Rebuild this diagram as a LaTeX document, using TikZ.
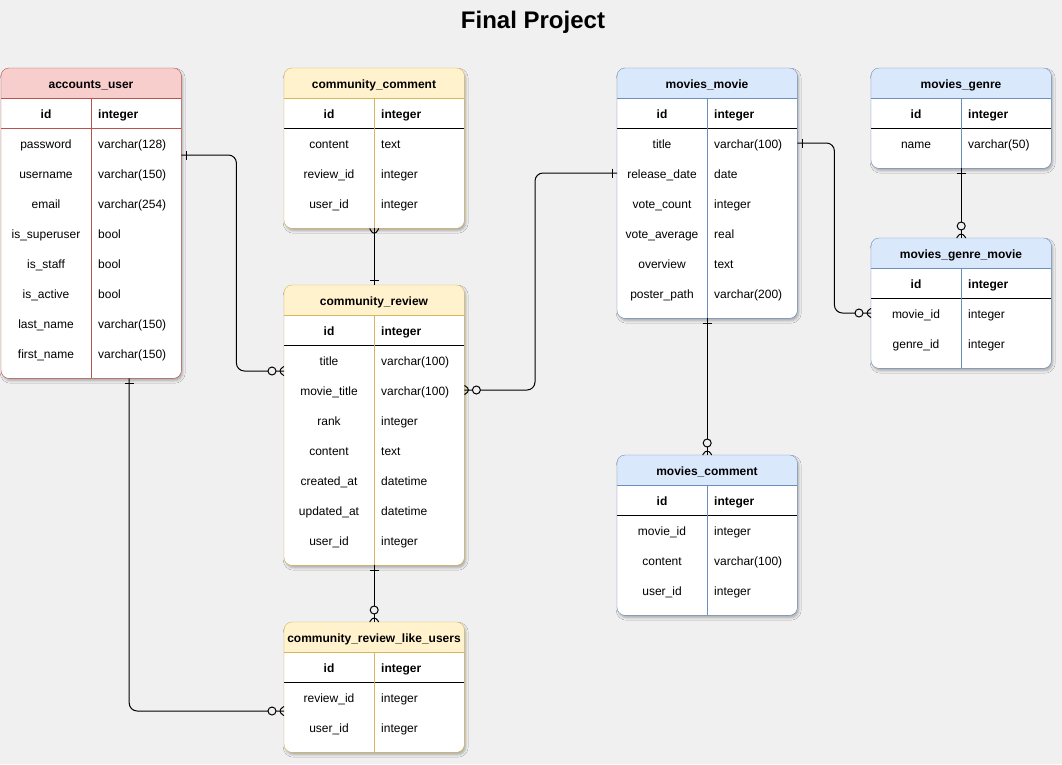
\documentclass[tikz,border=0pt]{standalone}
\usepackage{fontspec}
\setmainfont{Liberation Sans}
\usetikzlibrary{positioning}
\usetikzlibrary{decorations.markings, shadows.blur}

\definecolor{bgc}{RGB}{240,240,240}
\definecolor{redfill}{HTML}{F8CECC}
\definecolor{redline}{HTML}{B85450}
\definecolor{yelfill}{HTML}{FFF2CC}
\definecolor{yelline}{HTML}{D6B656}
\definecolor{bluefill}{HTML}{DAE8FC}
\definecolor{blueline}{HTML}{6C8EBF}

\tikzset{
  tbl/.style={rectangle, fill=white, rounded corners=8pt, anchor=north west, inner sep=0pt, minimum width=180pt,
    blur shadow={shadow xshift=1.5pt, shadow yshift=-2.5pt, shadow blur radius=2.5pt, shadow opacity=30}},
  ttl/.style={font=\fontsize{12}{14}\selectfont\bfseries, text height=11pt, text depth=1pt, inner sep=0pt},
  fld/.style={font=\fontsize{12}{14}\selectfont, text height=11pt, text depth=1pt, inner sep=0pt},
  typ/.style={fld, anchor=west},
  rel/.style={draw=black, line width=1pt, rounded corners=8pt, postaction={decorate}},
  onezmany/.style={rel, decoration={markings,
    mark=at position 5pt with {\draw[line width=1pt] (0pt,-4.5pt) -- (0pt,4.5pt);},
    mark=at position -8pt with {\draw[line width=1pt] (8pt,4.5pt) -- (0pt,0pt) -- (8pt,-4.5pt);},
    mark=at position -12pt with {\draw[line width=1pt, fill=bgc] (0pt,0pt) circle (4pt);}}},
  onemany/.style={rel, decoration={markings,
    mark=at position 5pt with {\draw[line width=1pt] (0pt,-4.5pt) -- (0pt,4.5pt);},
    mark=at position -9pt with {\draw[line width=1pt] (9pt,4.5pt) -- (0pt,0pt) -- (9pt,-4.5pt);}}}
}

\begin{document}
\begin{tikzpicture}[x=1pt,y=-1pt]
\fill[bgc] (0,0) rectangle (1062,764);
\useasboundingbox (0,0) rectangle (1062,764);

\node[font=\fontsize{24}{28}\selectfont\bfseries, text height=20pt, text depth=4pt, inner sep=0pt] (title) at (533,20) {Final Project};

% accounts_user
\node[tbl, minimum height=310pt] (au) at (1,68) {};
\fill[redfill] ([yshift=-30pt]au.north west) [rounded corners=8pt] -- (au.north west) -- (au.north east) [sharp corners] -- ([yshift=-30pt]au.north east) -- cycle;
\draw[redline] ([yshift=-30pt]au.north west) -- ([yshift=-30pt]au.north east);
\draw[redline] ([yshift=-60pt]au.north west) -- ([yshift=-60pt]au.north east);
\draw[redline] ([xshift=90pt,yshift=-30pt]au.north west) -- ([xshift=90pt]au.south west);
\draw[redline, rounded corners=8pt] (au.north west) rectangle (au.south east);
\node[ttl] (au0) at (91,83) {accounts\_user};
\node[ttl] (au1a) at (46,113) {id}; \node[ttl, anchor=west] (au1b) at (98,113) {integer};
\node[fld] (au2a) at (46,143) {password}; \node[typ] (au2b) at (98,143) {varchar(128)};
\node[fld] (au3a) at (46,173) {username}; \node[typ] (au3b) at (98,173) {varchar(150)};
\node[fld] (au4a) at (46,203) {email}; \node[typ] (au4b) at (98,203) {varchar(254)};
\node[fld] (au5a) at (46,233) {is\_superuser}; \node[typ] (au5b) at (98,233) {bool};
\node[fld] (au6a) at (46,263) {is\_staff}; \node[typ] (au6b) at (98,263) {bool};
\node[fld] (au7a) at (46,293) {is\_active}; \node[typ] (au7b) at (98,293) {bool};
\node[fld] (au8a) at (46,323) {last\_name}; \node[typ] (au8b) at (98,323) {varchar(150)};
\node[fld] (au9a) at (46,353) {first\_name}; \node[typ] (au9b) at (98,353) {varchar(150)};

% community_comment
\node[tbl, minimum height=160pt] (cc) at (284,68) {};
\fill[yelfill] ([yshift=-30pt]cc.north west) [rounded corners=8pt] -- (cc.north west) -- (cc.north east) [sharp corners] -- ([yshift=-30pt]cc.north east) -- cycle;
\draw[yelline] ([yshift=-30pt]cc.north west) -- ([yshift=-30pt]cc.north east);
\draw[black] ([yshift=-60pt]cc.north west) -- ([yshift=-60pt]cc.north east);
\draw[yelline] ([xshift=90pt,yshift=-30pt]cc.north west) -- ([xshift=90pt]cc.south west);
\draw[yelline, rounded corners=8pt] (cc.north west) rectangle (cc.south east);
\node[ttl] (cc0) at (374,83) {community\_comment};
\node[ttl] (cc1a) at (329,113) {id}; \node[ttl, anchor=west] (cc1b) at (381,113) {integer};
\node[fld] (cc2a) at (329,143) {content}; \node[typ] (cc2b) at (381,143) {text};
\node[fld] (cc3a) at (329,173) {review\_id}; \node[typ] (cc3b) at (381,173) {integer};
\node[fld] (cc4a) at (329,203) {user\_id}; \node[typ] (cc4b) at (381,203) {integer};

% community_review
\node[tbl, minimum height=280pt] (cr) at (284,285) {};
\fill[yelfill] ([yshift=-30pt]cr.north west) [rounded corners=8pt] -- (cr.north west) -- (cr.north east) [sharp corners] -- ([yshift=-30pt]cr.north east) -- cycle;
\draw[yelline] ([yshift=-30pt]cr.north west) -- ([yshift=-30pt]cr.north east);
\draw[black] ([yshift=-60pt]cr.north west) -- ([yshift=-60pt]cr.north east);
\draw[yelline] ([xshift=90pt,yshift=-30pt]cr.north west) -- ([xshift=90pt]cr.south west);
\draw[yelline, rounded corners=8pt] (cr.north west) rectangle (cr.south east);
\node[ttl] (cr0) at (374,300) {community\_review};
\node[ttl] (cr1a) at (329,330) {id}; \node[ttl, anchor=west] (cr1b) at (381,330) {integer};
\node[fld] (cr2a) at (329,360) {title}; \node[typ] (cr2b) at (381,360) {varchar(100)};
\node[fld] (cr3a) at (329,390) {movie\_title}; \node[typ] (cr3b) at (381,390) {varchar(100)};
\node[fld] (cr4a) at (329,420) {rank}; \node[typ] (cr4b) at (381,420) {integer};
\node[fld] (cr5a) at (329,450) {content}; \node[typ] (cr5b) at (381,450) {text};
\node[fld] (cr6a) at (329,480) {created\_at}; \node[typ] (cr6b) at (381,480) {datetime};
\node[fld] (cr7a) at (329,510) {updated\_at}; \node[typ] (cr7b) at (381,510) {datetime};
\node[fld] (cr8a) at (329,540) {user\_id}; \node[typ] (cr8b) at (381,540) {integer};

% community_review_like_users
\node[tbl, minimum height=130pt] (crl) at (284,622) {};
\fill[yelfill] ([yshift=-30pt]crl.north west) [rounded corners=8pt] -- (crl.north west) -- (crl.north east) [sharp corners] -- ([yshift=-30pt]crl.north east) -- cycle;
\draw[yelline] ([yshift=-30pt]crl.north west) -- ([yshift=-30pt]crl.north east);
\draw[black] ([yshift=-60pt]crl.north west) -- ([yshift=-60pt]crl.north east);
\draw[yelline] ([xshift=90pt,yshift=-30pt]crl.north west) -- ([xshift=90pt]crl.south west);
\draw[yelline, rounded corners=8pt] (crl.north west) rectangle (crl.south east);
\node[ttl] (crl0) at (374,637) {community\_review\_like\_users};
\node[ttl] (crl1a) at (329,667) {id}; \node[ttl, anchor=west] (crl1b) at (381,667) {integer};
\node[fld] (crl2a) at (329,697) {review\_id}; \node[typ] (crl2b) at (381,697) {integer};
\node[fld] (crl3a) at (329,727) {user\_id}; \node[typ] (crl3b) at (381,727) {integer};

% movies_movie
\node[tbl, minimum height=250pt] (mm) at (617,68) {};
\fill[bluefill] ([yshift=-30pt]mm.north west) [rounded corners=8pt] -- (mm.north west) -- (mm.north east) [sharp corners] -- ([yshift=-30pt]mm.north east) -- cycle;
\draw[blueline] ([yshift=-30pt]mm.north west) -- ([yshift=-30pt]mm.north east);
\draw[black] ([yshift=-60pt]mm.north west) -- ([yshift=-60pt]mm.north east);
\draw[blueline] ([xshift=90pt,yshift=-30pt]mm.north west) -- ([xshift=90pt]mm.south west);
\draw[blueline, rounded corners=8pt] (mm.north west) rectangle (mm.south east);
\node[ttl] (mm0) at (707,83) {movies\_movie};
\node[ttl] (mm1a) at (662,113) {id}; \node[ttl, anchor=west] (mm1b) at (714,113) {integer};
\node[fld] (mm2a) at (662,143) {title}; \node[typ] (mm2b) at (714,143) {varchar(100)};
\node[fld] (mm3a) at (662,173) {release\_date}; \node[typ] (mm3b) at (714,173) {date};
\node[fld] (mm4a) at (662,203) {vote\_count}; \node[typ] (mm4b) at (714,203) {integer};
\node[fld] (mm5a) at (662,233) {vote\_average}; \node[typ] (mm5b) at (714,233) {real};
\node[fld] (mm6a) at (662,263) {overview}; \node[typ] (mm6b) at (714,263) {text};
\node[fld] (mm7a) at (662,293) {poster\_path}; \node[typ] (mm7b) at (714,293) {varchar(200)};

% movies_genre
\node[tbl, minimum height=100pt] (mg) at (871,68) {};
\fill[bluefill] ([yshift=-30pt]mg.north west) [rounded corners=8pt] -- (mg.north west) -- (mg.north east) [sharp corners] -- ([yshift=-30pt]mg.north east) -- cycle;
\draw[blueline] ([yshift=-30pt]mg.north west) -- ([yshift=-30pt]mg.north east);
\draw[black] ([yshift=-60pt]mg.north west) -- ([yshift=-60pt]mg.north east);
\draw[blueline] ([xshift=90pt,yshift=-30pt]mg.north west) -- ([xshift=90pt]mg.south west);
\draw[blueline, rounded corners=8pt] (mg.north west) rectangle (mg.south east);
\node[ttl] (mg0) at (961,83) {movies\_genre};
\node[ttl] (mg1a) at (916,113) {id}; \node[ttl, anchor=west] (mg1b) at (968,113) {integer};
\node[fld] (mg2a) at (916,143) {name}; \node[typ] (mg2b) at (968,143) {varchar(50)};

% movies_genre_movie
\node[tbl, minimum height=130pt] (mgm) at (871,238) {};
\fill[bluefill] ([yshift=-30pt]mgm.north west) [rounded corners=8pt] -- (mgm.north west) -- (mgm.north east) [sharp corners] -- ([yshift=-30pt]mgm.north east) -- cycle;
\draw[blueline] ([yshift=-30pt]mgm.north west) -- ([yshift=-30pt]mgm.north east);
\draw[black] ([yshift=-60pt]mgm.north west) -- ([yshift=-60pt]mgm.north east);
\draw[blueline] ([xshift=90pt,yshift=-30pt]mgm.north west) -- ([xshift=90pt]mgm.south west);
\draw[blueline, rounded corners=8pt] (mgm.north west) rectangle (mgm.south east);
\node[ttl] (mgm0) at (961,253) {movies\_genre\_movie};
\node[ttl] (mgm1a) at (916,283) {id}; \node[ttl, anchor=west] (mgm1b) at (968,283) {integer};
\node[fld] (mgm2a) at (916,313) {movie\_id}; \node[typ] (mgm2b) at (968,313) {integer};
\node[fld] (mgm3a) at (916,343) {genre\_id}; \node[typ] (mgm3b) at (968,343) {integer};

% movies_comment
\node[tbl, minimum height=160pt] (mc) at (617,455) {};
\fill[bluefill] ([yshift=-30pt]mc.north west) [rounded corners=8pt] -- (mc.north west) -- (mc.north east) [sharp corners] -- ([yshift=-30pt]mc.north east) -- cycle;
\draw[blueline] ([yshift=-30pt]mc.north west) -- ([yshift=-30pt]mc.north east);
\draw[black] ([yshift=-60pt]mc.north west) -- ([yshift=-60pt]mc.north east);
\draw[blueline] ([xshift=90pt,yshift=-30pt]mc.north west) -- ([xshift=90pt]mc.south west);
\draw[blueline, rounded corners=8pt] (mc.north west) rectangle (mc.south east);
\node[ttl] (mc0) at (707,470) {movies\_comment};
\node[ttl] (mc1a) at (662,500) {id}; \node[ttl, anchor=west] (mc1b) at (714,500) {integer};
\node[fld] (mc2a) at (662,530) {movie\_id}; \node[typ] (mc2b) at (714,530) {integer};
\node[fld] (mc3a) at (662,560) {content}; \node[typ] (mc3b) at (714,560) {varchar(100)};
\node[fld] (mc4a) at (662,590) {user\_id}; \node[typ] (mc4b) at (714,590) {integer};

% relations
\draw[onezmany] ([yshift=-87pt]au.north east) -- ++(55,0) |- ([yshift=-86pt]cr.north west);
\draw[onezmany] ([yshift=-105pt]mm.north west) -- ++(-82,0) |- ([yshift=-105pt]cr.north east);
\draw[onezmany] ([yshift=-75pt]mm.north east) -- ++(37,0) |- ([yshift=-75pt]mgm.north west);
\draw[onemany] (cr.north) -- (cc.south);
\draw[onezmany] (mg.south) -- (mgm.north);
\draw[onezmany] (cr.south) -- (crl.north);
\draw[onezmany] (mm.south) -- (mc.north);
\draw[onezmany] ([xshift=38pt]au.south) |- ([yshift=-89pt]crl.north west);

\end{tikzpicture}
\end{document}
